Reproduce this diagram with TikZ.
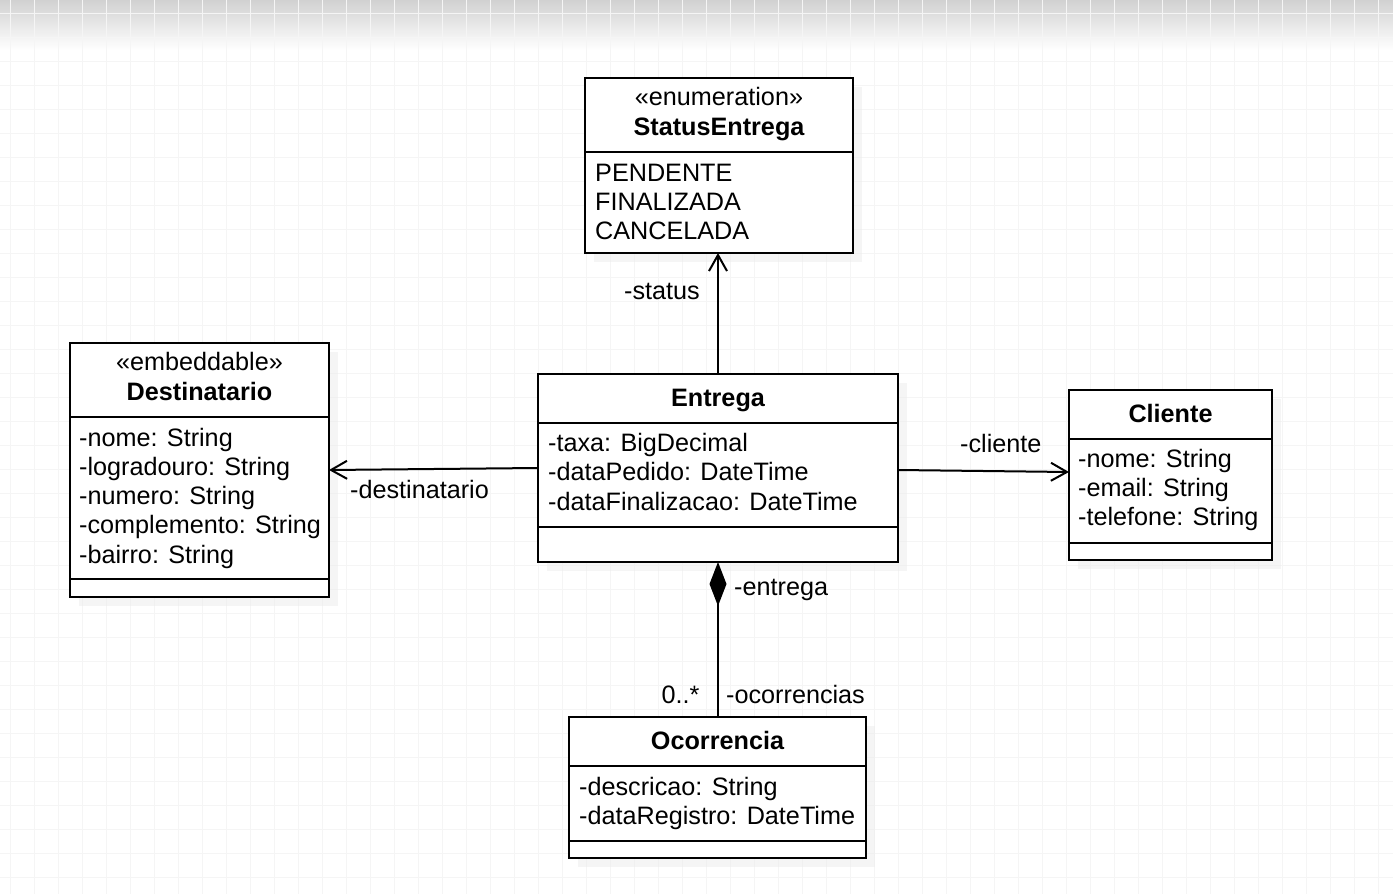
\documentclass[tikz,border=0pt]{standalone}
\usepackage{fontspec}
\setmainfont{Liberation Sans}
\usetikzlibrary{arrows.meta,shadows}
\begin{document}
\begin{tikzpicture}[x=1pt,y=-1pt,
  umlbox/.style={draw=black,line width=2pt,fill=white,rectangle,inner sep=0pt,outer sep=0pt,
    drop shadow={shadow xshift=9pt,shadow yshift=-9pt,fill=black!7,draw=none}},
  txt/.style={inner sep=0pt,anchor=base west,font=\fontsize{25.2}{30}\selectfont},
  ttl/.style={inner sep=0pt,anchor=base,font=\fontsize{25.2}{30}\selectfont\bfseries},
  ster/.style={inner sep=0pt,anchor=base,font=\fontsize{25.2}{30}\selectfont},
  lbl/.style={inner sep=0pt,anchor=base west,font=\fontsize{25.2}{30}\selectfont},
  divider/.style={line width=2pt},
  conn/.style={line width=2pt},
  openarr/.style={-{Straight Barb[length=16pt,width=18pt]}},
  comparr/.style={{Diamond[length=44pt,width=17pt]}-},
  gridc/.style={line width=0.9pt,black!4}
]
\useasboundingbox (0,0) rectangle (1393,894);
% background
\fill[white] (0,0) rectangle (1393,894);
\shade[top color=black!18,bottom color=white] (0,0) rectangle (1393,50);
\foreach \i in {0,...,57} \draw[gridc] ({10+24*\i},0) -- ({10+24*\i},894);
\foreach \j in {0,...,36} \draw[gridc] (0,{13+24*\j}) -- (1393,{13+24*\j});

% boxes
\node[umlbox,minimum width=268pt,minimum height=175pt] (status) at (719,165.5) {};
\node[umlbox,minimum width=360pt,minimum height=188pt] (entrega) at (718,468) {};
\node[umlbox,minimum width=259pt,minimum height=254pt] (dest) at (199.5,470) {};
\node[umlbox,minimum width=203pt,minimum height=170pt] (cliente) at (1170.5,475) {};
\node[umlbox,minimum width=297pt,minimum height=141pt] (ocor) at (717.5,787.5) {};

% dividers
\draw[divider] (status.west |- 0,152) -- (status.east |- 0,152);
\draw[divider] (dest.west |- 0,417) -- (dest.east |- 0,417);
\draw[divider] (dest.west |- 0,579) -- (dest.east |- 0,579);
\draw[divider] (entrega.west |- 0,423) -- (entrega.east |- 0,423);
\draw[divider] (entrega.west |- 0,527) -- (entrega.east |- 0,527);
\draw[divider] (cliente.west |- 0,439) -- (cliente.east |- 0,439);
\draw[divider] (cliente.west |- 0,543) -- (cliente.east |- 0,543);
\draw[divider] (ocor.west |- 0,766) -- (ocor.east |- 0,766);
\draw[divider] (ocor.west |- 0,841) -- (ocor.east |- 0,841);

% StatusEntrega texts
\node[ster] (s1) at (719,105) {«enumeration»};
\node[ttl] (s2) at (719,135) {StatusEntrega};
\node[txt] (s3) at (595,181) {PENDENTE};
\node[txt] (s4) at (595,210.3) {FINALIZADA};
\node[txt] (s5) at (595,239.6) {CANCELADA};

% Destinatario texts
\node[ster] (d1) at (199.5,370) {«embeddable»};
\node[ttl] (d2) at (199.5,400) {Destinatario};
\node[txt] (d3) at (79,446) {-nome: String};
\node[txt] (d4) at (79,475.3) {-logradouro: String};
\node[txt] (d5) at (79,504.6) {-numero: String};
\node[txt] (d6) at (79,533.9) {-complemento: String};
\node[txt] (d7) at (79,563.2) {-bairro: String};

% Entrega texts
\node[ttl] (e1) at (718,406.5) {Entrega};
\node[txt] (e2) at (548,451.5) {-taxa: BigDecimal};
\node[txt] (e3) at (548,480.8) {-dataPedido: DateTime};
\node[txt] (e4) at (548,510.1) {-dataFinalizacao: DateTime};

% Cliente texts
\node[ttl] (c1) at (1170.5,422.3) {Cliente};
\node[txt] (c2) at (1078,467.3) {-nome: String};
\node[txt] (c3) at (1078,496.6) {-email: String};
\node[txt] (c4) at (1078,525.9) {-telefone: String};

% Ocorrencia texts
\node[ttl] (o1) at (717.5,749.5) {Ocorrencia};
\node[txt] (o2) at (579,795) {-descricao: String};
\node[txt] (o3) at (579,824.3) {-dataRegistro: DateTime};

% connectors
\draw[conn,openarr] (entrega.north) -- (entrega.north |- status.south);
\draw[conn,openarr] (entrega.west) -- (dest.east);
\draw[conn,openarr] ([yshift=-2pt]entrega.east) -- ([yshift=3pt]cliente.west);
\draw[conn,comparr] (entrega.south) -- (entrega.south |- ocor.north);

% labels
\node[lbl] (lstatus) at (624,299) {-status};
\node[lbl] (ldest) at (350,498.3) {-destinatario};
\node[lbl] (lcli) at (960,452.7) {-cliente};
\node[lbl] (lent) at (734,595) {-entrega};
\node[lbl] (lmult) at (661.5,703.3) {0..*};
\node[lbl] (locor) at (726,703.3) {-ocorrencias};
\end{tikzpicture}
\end{document}
